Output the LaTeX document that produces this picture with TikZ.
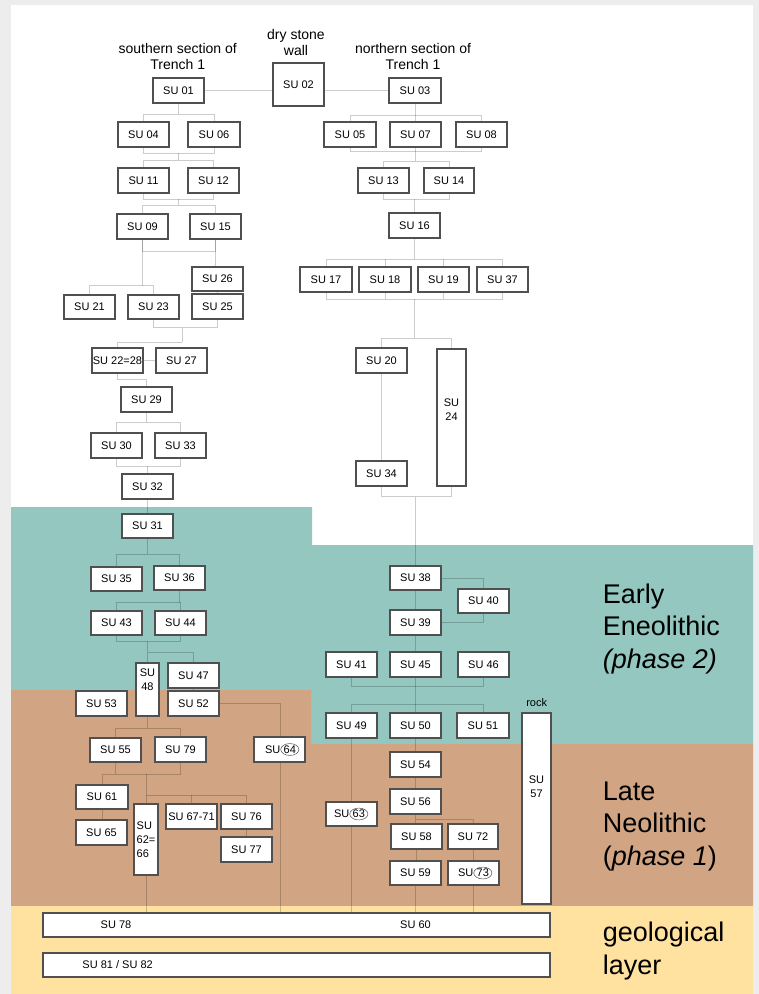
\documentclass[tikz,border=0pt]{standalone}
\usepackage{fontspec}
\setmainfont{Liberation Sans}
\usetikzlibrary{shapes.geometric}
\definecolor{teal1}{HTML}{93C7C0}
\definecolor{brown1}{HTML}{D1A583}
\definecolor{yell1}{HTML}{FFE2A0}
\definecolor{frame1}{HTML}{EDEDED}
\definecolor{boxline}{HTML}{505050}
\pgfdeclarelayer{bg}
\pgfdeclarelayer{lines}
\pgfsetlayers{bg,lines,main}
\newcommand\sufont{\fontsize{11}{14}\selectfont}
\newcommand\bx[6]{\node[box,minimum width={#4-#2},minimum height={#5-#3}] (#1) at ({(#2+#4)/2},{(#3+#5)/2}) {#6};}
% circled number: box name, x where SU ends, y, number
\newcommand\sucirc[4]{\node[sut,anchor=east] (#1a) at (#2,#3) {SU};
  \node[draw=boxline,ellipse,line width=0.5pt,inner sep=0.3pt,font=\sufont,anchor=west] (#1b) at (#1a.east) {#4};}
% connector helpers
\newcommand\sutbar[3]{\coordinate (tmp) at (0,#1); \draw[conn] (#2.north) |- (tmp -| #3.north) -- (#3.north);}
\newcommand\suspl[4]{\sutbar{#2}{#3}{#4}\draw[conn] (#1.south) -- (#1.south |- tmp);}
\newcommand\sumrg[3]{\coordinate (tmp) at (0,#3); \draw[conn] (#1.south) |- (tmp -| #2.south) -- (#2.south);}
\newcommand\sudrop[1]{\draw[conn] (#1.north) -- (#1.north |- tmp);}
\newcommand\suup[1]{\draw[conn] (#1.south) -- (#1.south |- tmp);}
\newcommand\suvmid[3]{\coordinate (m1) at (#1,#2); \coordinate (m2) at (#1,#3); \draw[conn] (m1) -- (m2);}
\begin{document}
\begin{tikzpicture}[x=1pt,y=-1pt,
  box/.style={draw=boxline,line width=1.1pt,fill=white,inner sep=0pt,font=\sufont},
  sut/.style={inner sep=0pt,font=\sufont},
  conn/.style={draw=black,draw opacity=0.2,line width=1pt},
  toplab/.style={inner sep=0pt,align=center,font=\fontsize{14}{16}\selectfont},
  phlab/.style={inner sep=0pt,anchor=west,align=left,font=\fontsize{27}{32.5}\selectfont}]
\useasboundingbox (0,0) rectangle (759,994);
\begin{pgfonlayer}{bg}
\fill[frame1] (0,0) rectangle (759,994);
\fill[white] (11,5) rectangle (753,994);
\fill[teal1] (11,507) -- (312,507) -- (312,545) -- (753,545) -- (753,744) -- (311,744) -- (311,690) -- (11,690) -- cycle;
\fill[brown1] (11,690) -- (311,690) -- (311,744) -- (753,744) -- (753,906) -- (11,906) -- cycle;
\fill[yell1] (11,906) rectangle (753,994);
\end{pgfonlayer}

% labels
\node[toplab] (lsouth) at (177.7,56.5) {southern section of\\Trench 1};
\node[toplab] (lwall) at (296,42.5) {dry stone\\wall};
\node[toplab] (lnorth) at (413,56.5) {northern section of\\Trench 1};
\node[phlab] (lph2) at (602.7,629) {Early\\Eneolithic\\\textit{(phase 2)}};
\node[phlab] (lph1) at (602.7,826.5) {Late\\Neolithic\\(\textit{phase 1})};
\node[phlab] (lgeo) at (602.7,951) {geological\\layer};

% boxes
\bx{su01}{153}{78}{204}{103}{SU 01}
\bx{su02}{273}{63}{324}{106}{SU 02}
\bx{su03}{389}{78}{441}{103}{SU 03}
\bx{su04}{118}{122}{169}{147}{SU 04}
\bx{su06}{188}{122}{240}{147}{SU 06}
\bx{su05}{324}{122}{376}{147}{SU 05}
\bx{su07}{390}{122}{441}{147}{SU 07}
\bx{su08}{456}{122}{507}{147}{SU 08}
\bx{su11}{118}{168}{169}{193}{SU 11}
\bx{su12}{188}{168}{239}{193}{SU 12}
\bx{su13}{358}{168}{409}{193}{SU 13}
\bx{su14}{424}{168}{474}{193}{SU 14}
\bx{su09}{117}{214}{168}{239}{SU 09}
\bx{su15}{190}{214}{241}{239}{SU 15}
\bx{su16}{389}{213}{440}{238}{SU 16}
\bx{su26}{192}{267}{243}{291}{SU 26}
\bx{su21}{64}{295}{115}{319}{SU 21}
\bx{su23}{128}{295}{179}{319}{SU 23}
\bx{su25}{192}{294}{243}{319}{SU 25}
\bx{su17}{300}{267}{352}{292}{SU 17}
\bx{su18}{359}{267}{411}{292}{SU 18}
\bx{su19}{418}{267}{469}{292}{SU 19}
\bx{su37}{477}{267}{528}{292}{SU 37}
\bx{su2228}{92}{348}{143}{373}{SU 22=28}
\bx{su27}{156}{348}{207}{373}{SU 27}
\bx{su20}{356}{348}{407}{373}{SU 20}
\bx{su24}{437}{349}{466}{486}{}
\node[sut,align=center] (su24t) at (451.5,410) {SU\\24};
\bx{su29}{121}{387}{172}{412}{SU 29}
\bx{su30}{91}{433}{142}{458}{SU 30}
\bx{su33}{155}{433}{206}{458}{SU 33}
\bx{su34}{356}{461}{407}{486}{SU 34}
\bx{su32}{122}{474}{173}{499}{SU 32}
\bx{su31}{122}{514}{173}{538}{SU 31}
\bx{su35}{91}{567}{142}{591}{SU 35}
\bx{su36}{154}{566}{205}{590}{SU 36}
\bx{su43}{91}{611}{142}{635}{SU 43}
\bx{su44}{155}{611}{206}{635}{SU 44}
\bx{su38}{390}{566}{441}{590}{SU 38}
\bx{su40}{458}{589}{509}{613}{SU 40}
\bx{su39}{390}{610}{441}{635}{SU 39}
\bx{su41}{326}{652}{377}{677}{SU 41}
\bx{su45}{390}{652}{441}{677}{SU 45}
\bx{su46}{458}{652}{509}{677}{SU 46}
\bx{su48}{136}{663}{159}{716}{}
\node[sut,align=center] (su48t) at (147.5,680) {SU\\48};
\bx{su47}{168}{663}{219}{688}{SU 47}
\bx{su53}{76}{691}{127}{716}{SU 53}
\bx{su52}{168}{691}{219}{716}{SU 52}
\bx{su49}{326}{713}{377}{738}{SU 49}
\bx{su50}{390}{713}{441}{738}{SU 50}
\bx{su51}{457}{713}{509}{738}{SU 51}
\bx{su57}{522}{713}{551}{904}{}
\node[sut,align=center] (su57t) at (536.5,787) {SU\\57};
\node[sut] (rock) at (536.7,702.3) {rock};
\bx{su55}{90}{738}{141}{762}{SU 55}
\bx{su79}{155}{737}{206}{762}{SU 79}
\bx{su64}{254}{737}{305}{762}{}
\sucirc{su64}{280.5}{749.5}{64}
\bx{su54}{390}{752}{441}{777}{SU 54}
\bx{su61}{76}{785}{128}{809}{SU 61}
\bx{su65}{76}{820}{127}{845}{SU 65}
\node[box,align=left,minimum width=24,minimum height=71] (su6266) at (146,839.5) {SU\\62=\\66};
\bx{su6771}{166}{804}{217}{829}{SU 67-71}
\bx{su76}{221}{804}{272}{829}{SU 76}
\bx{su77}{221}{837}{272}{862}{SU 77}
\bx{su56}{390}{789}{441}{814}{SU 56}
\bx{su63}{326}{802}{377}{826}{}
\sucirc{su63}{349.5}{814}{63}
\bx{su58}{391}{824}{442}{849}{SU 58}
\bx{su72}{448}{824}{498}{849}{SU 72}
\bx{su59}{390}{861}{441}{885}{SU 59}
\bx{su73}{448}{861}{499}{885}{}
\sucirc{su73}{473.5}{873}{73}
\bx{su7860}{43}{913}{550}{937}{}
\node[sut] (su78t) at (116,925) {SU 78};
\node[sut] (su60t) at (415.5,925) {SU 60};
\bx{su8182}{43}{953}{550}{977}{}
\node[sut] (su8182t) at (117.6,965) {SU 81 / SU 82};

% connectors
\begin{pgfonlayer}{lines}
\draw[conn] (su01.east) -- (su01.east -| su02.west);
\draw[conn] (su03.west) -- (su03.west -| su02.east);
% southern section
\suspl{su01}{114}{su04}{su06}
\sumrg{su04}{su06}{153} \suvmid{178.75}{153}{160} \sutbar{160}{su11}{su12}
\sumrg{su11}{su12}{199} \suvmid{178.5}{199}{205} \sutbar{205}{su09}{su15}
\sumrg{su09}{su15}{251.7}
\draw[conn] (su15.south) -- (su15.south |- su26.north);
\sutbar{285.7}{su21}{su23} \suup{su09}
\draw[conn] (su26.south) -- (su25.north);
\sumrg{su23}{su25}{327.7} \suvmid{182.3}{327.7}{342.3}
\draw[conn] (m2) -| (su2228.north);
\draw[conn] (su2228.east) -- (su27.west);
\coordinate (tmp) at (0,379.3);
\draw[conn] (su2228.south) |- (tmp -| su29.north) -- (su29.north);
\suspl{su29}{422.3}{su30}{su33}
\sumrg{su30}{su33}{466} \draw[conn] (tmp -| su32.north) -- (su32.north);
\draw[conn] (su32.south) -- (su31.north);
\suspl{su31}{554.3}{su35}{su36}
\suspl{su36}{602.7}{su43}{su44}
\sumrg{su43}{su44}{641} \draw[conn] (tmp -| su48.north) -- (su48.north);
\coordinate (tmp) at (0,652.7);
\draw[conn] (su48.north |- tmp) -| (su47.north);
\draw[conn] (su47.south) -- (su52.north);
\coordinate (x64) at (280,0);
\draw[conn] (su52.east) -| (x64 |- su7860.north);
\suspl{su48}{728.3}{su55}{su79}
\coordinate (tmp) at (0,774.3);
\draw[conn] (su61.north) |- (tmp -| su79.south) -- (su79.south);
\suup{su55}
\draw[conn] (su6266.north) -- (su6266.north |- tmp);
\coordinate (tmp) at (0,795);
\draw[conn] (su6266.north |- tmp) -| (su76.north);
\sudrop{su6771}
\draw[conn] (su61.south) -- (su61.south |- su65.north);
\draw[conn] (su76.south) -- (su77.north);
\draw[conn] (su6266.south) -- (su6266.south |- su7860.north);
% northern section
\suspl{su03}{115}{su05}{su08} \sudrop{su07}
\sumrg{su05}{su08}{151.7} \suup{su07} \suvmid{415.5}{151.7}{161} \sutbar{161}{su13}{su14}
\sumrg{su13}{su14}{199} \draw[conn] (tmp -| su16.north) -- (su16.north);
\suspl{su16}{259.3}{su17}{su37} \sudrop{su18} \sudrop{su19}
\sumrg{su17}{su37}{299} \suup{su18} \suup{su19} \suvmid{414.7}{299}{338.3} \sutbar{338.3}{su20}{su24}
\draw[conn] (su20.south) -- (su34.north);
\sumrg{su34}{su24}{496.7} \draw[conn] (tmp -| su38.north) -- (su38.north);
\draw[conn] (su38.east) -| (su40.north);
\draw[conn] (su40.south) |- (su39.east);
\draw[conn] (su38.south) -- (su39.north);
\draw[conn] (su39.south) -- (su45.north);
\sumrg{su41}{su46}{686}
\draw[conn] (su45.south) -- (su50.north);
\sutbar{704}{su49}{su51}
\draw[conn] (su50.south) -- (su54.north);
\draw[conn] (su54.south) -- (su56.north);
\draw[conn] (su56.south) -- (su56.south |- su58.north);
\coordinate (tmp) at (0,819.3);
\draw[conn] (su56.south |- tmp) -| (su72.north);
\draw[conn] (su58.south) -- (su58.south |- su59.north);
\draw[conn] (su59.south) -- (su59.south |- su7860.north);
\draw[conn] (su72.south) -- (su72.south |- su73.north);
\draw[conn] (su73.south) -- (su73.south |- su7860.north);
\draw[conn] (su49.south) -- (su49.south |- su7860.north);
\end{pgfonlayer}
\end{tikzpicture}
\end{document}
